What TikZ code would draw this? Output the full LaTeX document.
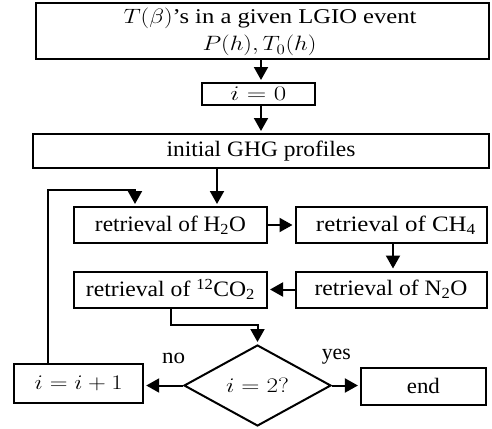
\documentclass[tikz,border=0pt]{standalone}
\usepackage{fontspec}
\setmainfont{Liberation Serif}
\usepackage{graphicx}
\usetikzlibrary{shapes.geometric,arrows.meta}
\newcommand{\tw}[2]{\resizebox{#1pt}{\height}{#2}}
\begin{document}
\begin{tikzpicture}[x=1pt,y=-1pt,
  box/.style={draw=black, line width=2pt, rectangle, inner sep=0pt, anchor=center,
    font=\fontsize{22}{27}\selectfont},
  lbl/.style={inner sep=0pt, font=\fontsize{22}{27}\selectfont},
  conn/.style={line width=2pt, -{Triangle[length=13pt,width=14pt]}, shorten >=2pt},
  plain/.style={line width=2pt}]
\useasboundingbox (0,0) rectangle (492,428);
\node[box, minimum width=453pt, minimum height=56pt] (top) at (262.6,31.3) {};
\node[lbl, anchor=base, font=\fontsize{21}{27}\selectfont] (t1) at (270,23.5)
  {\tw{293}{$T(\beta)$'s in a given LGIO event}};
\node[lbl, anchor=base, font=\fontsize{21}{27}\selectfont] (t2) at (259.5,51)
  {\tw{114}{$P(h),T_0(h)$}};
\node[box, minimum width=113pt, minimum height=22pt] (i0) at (258.3,94) {\tw{56}{$i=0$}};
\node[box, minimum width=456pt, minimum height=34pt] (ghg) at (261,151) {\tw{189}{initial GHG profiles}};
\node[box, minimum width=193pt, minimum height=36pt] (h2o) at (170.5,225) {\tw{151}{retrieval of H\textsubscript{2}O}};
\node[box, minimum width=191pt, minimum height=36pt] (ch4) at (391,225) {\hspace*{10pt}\tw{160}{retrieval of CH\textsubscript{4}}};
\node[box, minimum width=191pt, minimum height=36pt] (n2o) at (391,289.5) {\tw{153}{retrieval of N\textsubscript{2}O}};
\node[box, minimum width=193pt, minimum height=36pt] (co2) at (170.5,289.5) {\tw{169}{retrieval of \textsuperscript{12}CO\textsubscript{2}}};
\node[box, diamond, minimum width=147pt, minimum height=81pt] (dia) at (257.5,385.5) {\tw{63}{$i=2?$}};
\node[box, minimum width=129pt, minimum height=39.5pt] (inc) at (78.7,383.7) {\tw{88}{$i=i+1$}};
\node[box, minimum width=125pt, minimum height=37pt] (end) at (423.4,386.3) {\tw{33}{end}};
\node[lbl] (no) at (173.7,358) {\tw{23}{no}};
\node[lbl] (yes) at (336.3,357) {\tw{29}{yes}};
\coordinate (ax) at (261,0);
\coordinate (lx) at (217,0);
\coordinate (cx) at (393,0);
\coordinate (lpA) at (47.5,189.5);
\coordinate (lpB) at (135,189.5);
\coordinate (dA) at (171,325);
\draw[conn] (top.south -| ax) -- (i0.north -| ax);
\draw[conn] (i0.south -| ax) -- (ghg.north -| ax);
\draw[conn] (ghg.south -| lx) -- (h2o.north -| lx);
\draw[conn] (inc.north -| lpA) -- (lpA) -- (lpB) -- (h2o.north -| lpB);
\draw[conn] (h2o.east) -- (ch4.west);
\draw[conn] (ch4.south -| cx) -- (n2o.north -| cx);
\draw[conn] (n2o.west) -- (co2.east);
\draw[conn] (co2.south -| dA) -- (dA) -- (dA -| dia.north) -- (dia.north);
\draw[conn] (dia.west) -- (dia.west -| inc.east);
\draw[conn] (dia.east) -- (dia.east -| end.west);
\end{tikzpicture}
\end{document}
